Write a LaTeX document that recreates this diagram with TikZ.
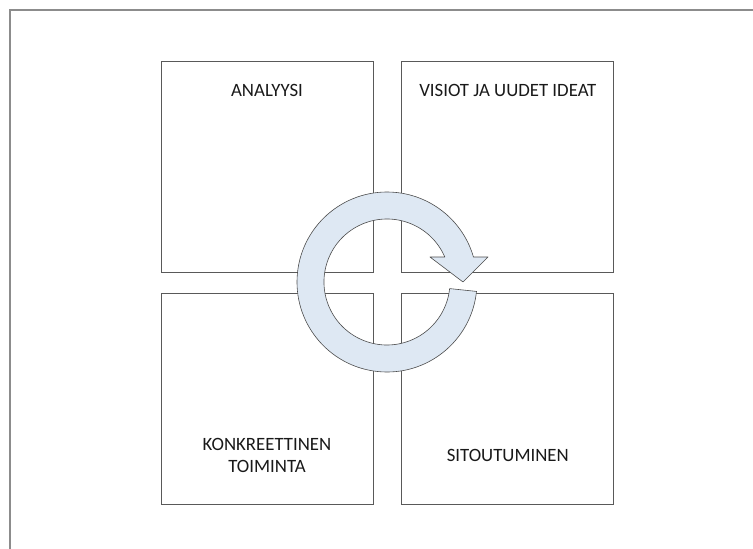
\documentclass[tikz,border=0pt]{standalone}
\usepackage{fontspec}
\setmainfont{Carlito}
\usepackage{tikz}
\usetikzlibrary{positioning,calc}

\definecolor{cycfill}{RGB}{222,232,243}

\begin{document}
\begin{tikzpicture}[
  x=1pt, y=1pt,
  font=\fontsize{18.8}{21.7}\selectfont,
  node distance=21pt and 28pt,
  quad/.style={
    rectangle, draw=black!65, line width=0.8pt,
    minimum width=212pt, minimum height=211pt, inner sep=0pt
  },
  lbl/.style={align=center, text=black!90},
  frame/.style={draw=black!45, line width=1.3pt},
  cyc/.style={fill=cycfill, draw=black!70, line width=0.6pt, line join=round}
]
\useasboundingbox (0,0) rectangle (753,-549);

% --- Page frame (only top and left edge show) ---
\draw[frame] (10,-549) -- (10,-10) -- (753,-10);

% --- Four quadrants ---
\node[quad] (ana) at (267,-166.5) {};
\node[quad, right=of ana] (vis) {};
\node[quad, below=of ana] (kon) {};
\node[quad, below=of vis] (sit) {};

% --- Quadrant texts ---
\node[lbl] (ana-t) at ([yshift=-30pt]ana.north) {ANALYYSI};
\node[lbl] (vis-t) at ([yshift=-30pt]vis.north) {VISIOT JA UUDET IDEAT};
\node[lbl] (kon-t) at ([yshift=50pt]kon.south) {KONKREETTINEN\\TOIMINTA};
\node[lbl] (sit-t) at ([yshift=50pt]sit.south) {SITOUTUMINEN};

% --- Cycle arrow over the middle ---
\coordinate (mid) at (387,-282);
\draw[cyc] ($(mid)+(-6:90)$) arc[start angle=-6, end angle=-343.87, radius=90pt]
  -- ($(mid)+(101,25)$) -- ($(mid)+(76,0)$) -- ($(mid)+(43,25)$) -- ($(mid)+(57.8,25)$)
  arc[start angle=23.38, end angle=354, radius=63pt] -- cycle;

\end{tikzpicture}
\end{document}
